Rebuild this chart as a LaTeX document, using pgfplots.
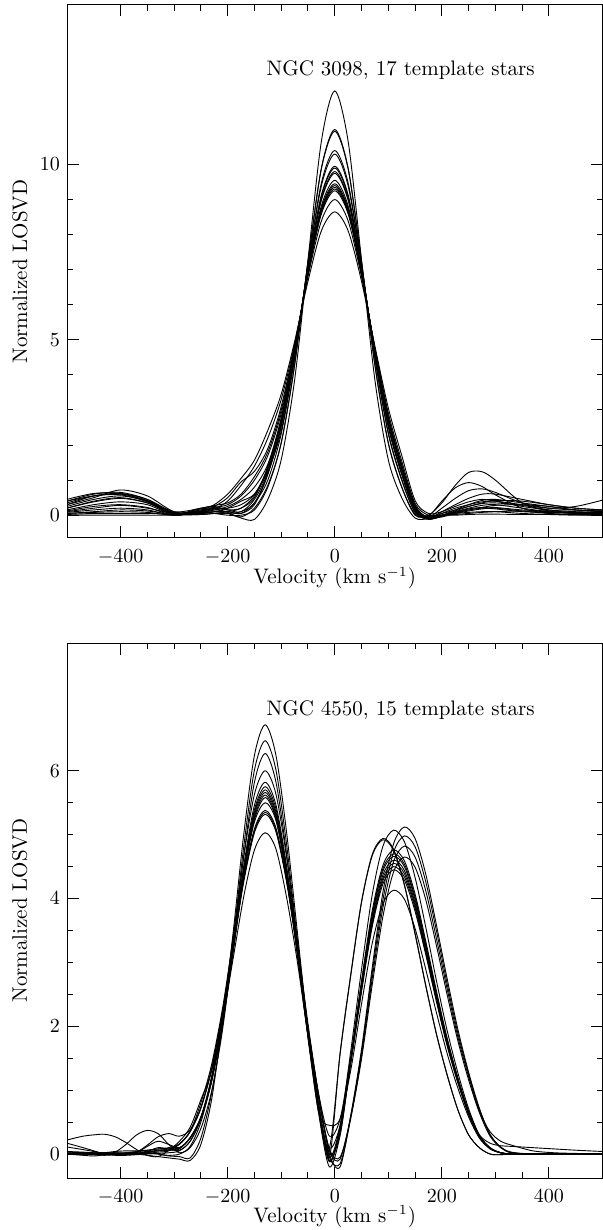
\documentclass[border=0pt]{standalone}
\usepackage{pgfplots}
\usepackage{pgfplotstable}
\pgfplotsset{compat=1.18}

% NGC 3098: 17 template stars
\pgfplotstableread{
x     c1    c2    c3    c4    c5    c6    c7    c8    c9    c10   c11   c12   c13   c14   c15   c16   c17
-500  0.08  0.10  0.05  0.12  0.30  0.05  0.02  0.15  0.00  0.20  0.40  0.25  0.20  0.30  0.35  0.45  0.40
-450  0.15  0.20  0.08  0.25  0.50  0.10  0.05  0.30  0.00  0.38  0.55  0.45  0.40  0.55  0.55  0.62  0.60
-400  0.20  0.28  0.10  0.30  0.72  0.15  0.05  0.38  0.00  0.48  0.60  0.55  0.50  0.62  0.58  0.62  0.65
-350  0.15  0.20  0.08  0.22  0.55  0.12  0.05  0.30  0.00  0.35  0.42  0.40  0.35  0.45  0.38  0.40  0.45
-300  0.00  0.05  0.00  0.00  0.10  0.02  0.02  0.02  0.00  0.05  0.05  0.05  0.02  0.10  0.05  0.08  0.05
-250  0.12  0.05  0.08  0.10  0.05  0.05  0.02  0.20  0.02  0.15  0.08  0.18  0.10  0.20  0.12  0.10  0.15
-225  0.18  0.10  0.05  0.12  0.10  0.10  0.05  0.25  0.05  0.18  0.15  0.22  0.20  0.28  0.25  0.18  0.30
-200  0.08  0.05  0.00  0.10  0.20  0.10  0.05  0.15  0.10  0.20  0.25  0.30  0.15  0.35  0.50  0.40  0.60
-175 -0.08 -0.05  0.00  0.05  0.40  0.05  0.10  0.10  0.20  0.30  0.45  0.55  0.20  0.60  0.95  0.85  1.05
-150 -0.12  0.20  0.15  0.35  0.60  0.30  0.35  0.45  0.55  0.60  0.80  1.00  0.50  1.10  1.25  1.40  1.57
-125  0.45  0.85  0.80  1.00  1.25  1.16  1.18  1.22  1.30  1.35  1.45  1.70  1.40  1.80  1.90  2.20  2.42
-100  1.58  2.05  2.07  2.32  2.40  2.52  2.54  2.58  2.60  2.69  2.73  2.90  2.78  3.00  3.10  3.30  3.45
-75   3.85  4.27  4.29  4.47  4.50  4.59  4.60  4.63  4.64  4.68  4.70  4.71  4.72  4.78  4.82  4.88  4.95
-50   7.28  7.23  7.22  7.15  7.13  7.05  7.05  7.02  7.01  6.96  6.93  6.92  6.90  6.89  6.87  6.80  6.67
-25  10.66  9.90  9.87  9.47  9.39  9.13  9.09  9.02  8.98  8.82  8.75  8.71  8.67  8.63  8.59  8.39  8.11
0    12.10 11.00 10.95 10.40 10.30  9.95  9.90  9.80  9.75  9.55  9.45  9.40  9.35  9.30  9.25  9.00  8.65
25   10.66  9.90  9.87  9.47  9.39  9.13  9.09  9.02  8.98  8.82  8.75  8.71  8.67  8.63  8.59  8.39  8.11
50    7.28  7.23  7.22  7.15  7.13  7.05  7.05  7.02  7.01  6.96  6.93  6.92  6.90  6.89  6.87  6.80  6.67
75    3.85  4.27  4.29  4.47  4.50  4.59  4.60  4.63  4.64  4.68  4.70  4.71  4.72  4.73  4.74  4.78  4.82
100   1.58  2.05  2.07  2.32  2.36  2.52  2.54  2.58  2.60  2.69  2.73  2.76  2.78  2.80  2.82  2.92  3.06
125   0.50  0.80  0.81  1.00  1.03  1.16  1.18  1.22  1.24  1.32  1.36  1.38  1.40  1.42  1.45  1.55  1.71
150  -0.08  0.00  0.03  0.08  0.08  0.12  0.14  0.17  0.17  0.22  0.22  0.24  0.25  0.27  0.29  0.34  0.42
175  -0.10  0.00 -0.05 -0.12 -0.02 -0.02 -0.10 -0.05 -0.08 -0.10 -0.08 -0.05 -0.10 -0.10 -0.08  0.00  0.05
200  -0.05  0.35  0.00 -0.02  0.40  0.00 -0.02  0.20 -0.02 -0.03  0.10  0.00  0.05  0.00  0.00  0.05  0.10
225   0.05  0.85  0.05  0.12  0.78  0.00  0.10  0.48  0.05  0.08  0.30  0.02  0.20  0.15  0.08  0.15  0.25
250   0.15  1.22  0.08  0.25  0.93  0.02  0.20  0.70  0.12  0.18  0.48  0.05  0.30  0.30  0.15  0.25  0.38
275   0.20  1.24  0.10  0.33  0.82  0.03  0.28  0.75  0.18  0.22  0.60  0.08  0.38  0.42  0.22  0.35  0.45
300   0.18  1.00  0.10  0.35  0.58  0.03  0.30  0.65  0.20  0.22  0.60  0.10  0.40  0.45  0.28  0.42  0.40
350   0.10  0.35  0.05  0.28  0.20  0.02  0.20  0.35  0.12  0.15  0.45  0.12  0.30  0.35  0.30  0.40  0.25
400   0.08  0.12  0.02  0.15  0.05  0.02  0.10  0.20  0.05  0.12  0.30  0.10  0.20  0.25  0.25  0.30  0.15
450   0.08  0.05  0.00  0.05  0.02  0.02  0.05  0.15  0.02  0.12  0.20  0.05  0.25  0.15  0.15  0.20  0.10
500   0.08  0.05  0.00  0.02  0.02  0.02  0.05  0.12  0.00  0.15  0.15  0.02  0.43  0.10  0.10  0.15  0.08
}\toptab

% NGC 4550: 15 template stars
\pgfplotstableread{
x     d1    d2    d3    d4    d5    d6    d7    d8    d9    d10   d11   d12   d13   d14   d15
-500  0.00  0.02  0.00  0.17  0.00  0.03  0.00  0.00  0.01  0.04  0.00  0.00  0.11  0.00  0.22
-470  0.00  0.02 -0.02  0.10  0.01  0.02  0.00  0.00  0.01  0.03  0.00  0.00  0.07  0.01  0.28
-450  0.01  0.01 -0.03  0.05  0.02  0.00  0.00 -0.01  0.01  0.02  0.00  0.00  0.04  0.01  0.30
-430  0.02  0.00 -0.01  0.00  0.02 -0.01  0.00 -0.02  0.00  0.01  0.02  0.00  0.01  0.01  0.31
-410  0.02  0.00  0.03 -0.02  0.01  0.00  0.00 -0.01  0.00  0.00  0.04  0.00  0.00  0.02  0.27
-390  0.01  0.01  0.15 -0.02  0.00  0.02  0.00  0.00  0.00  0.00  0.05 -0.01  0.00  0.02  0.18
-370  0.00  0.02  0.30 -0.01  0.00  0.04  0.02  0.01  0.00  0.01  0.05  0.03  0.00  0.03  0.07
-350 -0.02  0.02  0.37  0.00  0.02  0.06  0.12  0.01  0.04  0.03  0.06  0.14  0.01  0.04 -0.02
-330 -0.04  0.00  0.32  0.01  0.05  0.08  0.20  0.00  0.10  0.05  0.08  0.27  0.03  0.06 -0.04
-310 -0.06 -0.03  0.15  0.02  0.06  0.08  0.15 -0.02  0.08  0.06  0.10  0.32  0.05  0.08  0.06
-290 -0.08 -0.04  0.02  0.05  0.08  0.10  0.10  0.00  0.06  0.09  0.16  0.28  0.16  0.15  0.20
-270 -0.10 -0.06  0.10  0.20  0.26  0.25  0.25  0.12  0.20  0.25  0.36  0.38  0.35  0.35  0.42
-250  0.15  0.25  0.40  0.55  0.58  0.58  0.57  0.50  0.56  0.56  0.80  0.73  0.72  0.72  0.85
-230  0.85  0.95  0.98  1.22  1.18  1.17  1.16  1.15  1.14  1.13  1.40  1.34  1.33  1.32  1.30
-210  2.06  1.98  1.92  2.16  2.10  2.07  2.05  2.04  2.02  2.01  2.26  2.21  2.20  2.19  2.07
-190  3.45  3.33  3.22  3.38  3.28  3.24  3.21  3.19  3.16  3.14  3.34  3.27  3.25  3.23  3.05
-170  5.00  4.81  4.66  4.65  4.51  4.46  4.42  4.39  4.36  4.32  4.41  4.31  4.29  4.26  4.03
-150  6.24  6.01  5.82  5.63  5.46  5.39  5.35  5.31  5.27  5.23  5.20  5.09  5.06  5.03  4.76
-130  6.72  6.47  6.27  6.00  5.82  5.75  5.70  5.66  5.62  5.58  5.50  5.38  5.35  5.32  5.03
-110  6.25  6.02  5.83  5.64  5.47  5.41  5.36  5.32  5.28  5.25  5.23  5.11  5.08  5.05  4.78
-90   5.04  4.85  4.70  4.65  4.51  4.46  4.42  4.39  4.36  4.32  4.40  4.30  4.28  4.26  4.02
-70   3.49  3.36  3.26  3.36  3.26  3.22  3.19  3.17  3.15  3.12  3.30  3.23  3.21  3.19  3.02
-50   1.95  1.88  1.82  1.98  1.92  1.90  1.88  1.87  1.85  1.84  2.04  1.99  1.98  1.97  1.86
-30   0.67  0.65  0.63  0.78  0.76  0.75  0.74  0.74  0.73  0.73  0.94  0.91  0.91  0.90  0.86
-10  -0.12  0.45 -0.20 -0.05 -0.10 -0.05  0.10 -0.12 -0.05  0.00  0.28  0.00  0.05  0.08  0.10
10    0.40  0.55  0.30  1.58  0.35  0.45  1.57  0.40 -0.15  0.30  0.55 -0.20 -0.08 -0.05  0.45
30    1.42  1.32  1.47  2.82  1.49  1.62  2.80  1.50  0.56  1.46  1.52  0.61  0.60  0.58  1.44
50    2.54  2.35  2.62  3.95  2.66  2.89  3.94  2.68  1.49  2.59  2.71  1.64  1.59  1.54  2.57
70    3.56  3.30  3.68  4.69  3.73  4.06  4.67  3.76  2.65  3.64  3.81  2.92  2.84  2.75  3.60
90    4.23  3.92  4.37  4.94  4.43  4.82  4.92  4.47  3.72  4.32  4.52  4.10  3.98  3.86  4.28
110   4.45  4.13  4.60  4.77  4.66  5.07  4.75  4.70  4.42  4.55  4.76  4.86  4.73  4.58  4.50
130   4.29  3.99  4.44  4.22  4.50  4.89  4.21  4.54  4.65  4.39  4.59  5.12  4.98  4.82  4.34
150   3.80  3.53  3.93  3.46  3.98  4.33  3.44  4.02  4.49  3.89  4.07  4.94  4.81  4.65  3.85
170   3.12  2.89  3.22  2.64  3.26  3.55  2.63  3.29  3.98  3.19  3.33  4.38  4.26  4.12  3.15
190   2.38  2.21  2.46  1.88  2.49  2.71  1.87  2.51  3.26  2.43  2.55  3.58  3.49  3.37  2.41
210   1.69  1.57  1.75  1.24  1.77  1.93  1.23  1.79  2.49  1.73  1.81  2.74  2.66  2.58  1.71
230   1.11  1.03  1.15  0.69  1.17  1.27  0.69  1.18  1.77  1.14  1.19  1.95  1.89  1.83  1.13
250   0.62  0.58  0.64  0.30  0.65  0.71  0.30  0.66  1.16  0.64  0.67  1.28  1.25  1.21  0.63
270   0.27  0.25  0.28  0.10  0.28  0.30  0.10  0.28  0.65  0.30  0.29  0.72  0.70  0.67  0.27
290   0.09  0.08  0.09  0.00  0.09  0.10  0.00  0.09  0.28  0.17  0.10  0.31  0.30  0.35  0.09
310   0.02  0.02  0.02 -0.01  0.02  0.02 -0.01  0.02  0.10  0.13  0.02  0.11  0.10  0.20  0.02
330   0.00  0.00  0.00  0.00  0.00  0.00  0.00  0.00  0.02  0.12  0.00  0.03  0.02  0.14  0.00
370   0.00  0.00  0.00  0.00  0.00  0.00  0.00  0.00  0.00  0.10  0.00  0.00  0.00  0.05  0.00
410   0.00  0.00  0.00  0.00  0.00  0.00  0.00  0.00  0.00  0.08  0.00  0.00  0.00  0.02  0.00
450   0.00  0.00  0.00  0.00  0.00  0.00  0.00  0.00  0.00  0.06  0.00  0.00  0.00  0.01  0.00
500   0.00  0.00  0.00  0.00  0.00  0.00  0.00  0.00  0.00  0.04  0.00  0.00  0.00  0.00  0.00
}\bottab

\pgfplotsset{
  losvd/.style={
    scale only axis,
    width=267.75pt,
    xmin=-500, xmax=500,
    xtick={-400,-200,0,200,400},
    minor x tick num=3,
    tick align=inside,
    major tick length=5.75pt,
    minor tick length=3pt,
    every tick/.style={black, line width=0.5pt},
    axis line style={line width=0.5pt},
    tick label style={font=\fontsize{10}{12}\selectfont},
    xticklabel style={yshift=-2.5pt},
    clip mode=individual,
  },
  curve/.style={black, line width=0.45pt, smooth, mark=none},
}
\newcommand{\lblfont}{\fontsize{10.5}{12}\selectfont}

\begin{document}
\begin{tikzpicture}
\path[use as bounding box] (0,0) rectangle (301.5pt,615pt);

\begin{axis}[losvd,
    at={(33.5pt,346pt)}, anchor=south west,
    height=266.5pt,
    ymin=-0.65, ymax=14.55,
    ytick={0,5,10}, minor y tick num=4]
  \pgfplotsinvokeforeach{1,...,17}{
    \addplot[curve] table[x=x, y=c#1] {\toptab};
  }
  \node[anchor=base west, inner sep=0pt, font=\lblfont] at (axis cs:-128,12.54) {NGC 3098, 17 template stars};
  \node[yshift=-23pt, anchor=base, font=\lblfont] at (rel axis cs:0.5,0) {Velocity (km s$^{-1}$)};
  \node[xshift=-20pt, anchor=base, rotate=90, font=\lblfont] at (rel axis cs:0,0.5) {Normalized LOSVD};
\end{axis}

\begin{axis}[losvd,
    at={(33.5pt,26pt)}, anchor=south west,
    height=267.5pt,
    ymin=-0.375, ymax=8,
    ytick={0,2,4,6}, minor y tick num=3]
  \pgfplotsinvokeforeach{1,...,15}{
    \addplot[curve] table[x=x, y=d#1] {\bottab};
  }
  \node[anchor=base west, inner sep=0pt, font=\lblfont] at (axis cs:-128,6.87) {NGC 4550, 15 template stars};
  \node[yshift=-22pt, anchor=base, font=\lblfont] at (rel axis cs:0.5,0) {Velocity (km s$^{-1}$)};
  \node[xshift=-20pt, anchor=base, rotate=90, font=\lblfont] at (rel axis cs:0,0.5) {Normalized LOSVD};
\end{axis}
\end{tikzpicture}
\end{document}
